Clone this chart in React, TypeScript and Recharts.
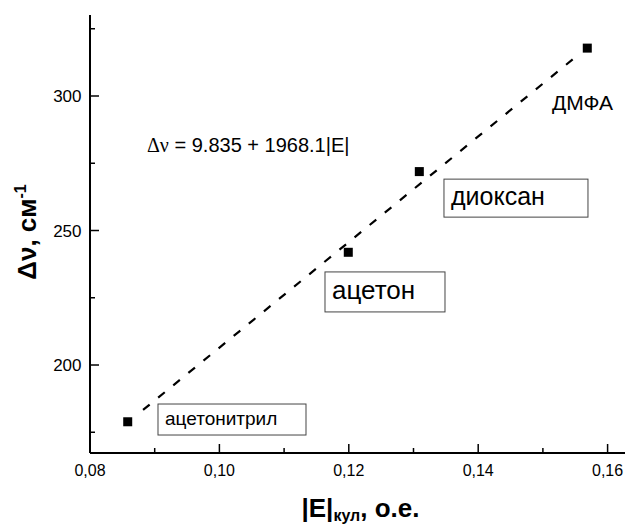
import { ReferenceDot, Scatter, ScatterChart, XAxis, YAxis } from "recharts";

// measured points: |E|кул vs Δν
const solvents = ["ацетонитрил", "ацетон", "диоксан", "ДМФА"];
const eValues = [0.08583, 0.11992, 0.1309, 0.15686];
const dnuValues = [178.9, 241.9, 271.9, 317.8];

// ends of the dashed fit line
const fitE = [0.0882, 0.1551];
const fitNu = [183.3, 314.6];

const xTicks = [0.08, 0.09, 0.1, 0.11, 0.12, 0.13, 0.14, 0.15, 0.16];
const yTicks = [175, 200, 225, 250, 275, 300, 325];
const xMajor = [0.08, 0.1, 0.12, 0.14, 0.16];
const yMajor = [200, 250, 300];

const points = solvents.map((name, i) => ({ name, x: eValues[i], y: dnuValues[i] }));
const fitLine = fitE.map((x, i) => ({ x, y: fitNu[i] }));

const FONT = "'Liberation Sans', Arial, sans-serif";

// labels on the plot, anchored in data coordinates
const boxed = [
  { text: "ацетонитрил", x: 0.09051, y: 185.5, w: 148, h: 31, size: 19 },
  { text: "ацетон", x: 0.11632, y: 234.6, w: 120, h: 40, size: 26 },
  { text: "диоксан", x: 0.13471, y: 269.1, w: 144, h: 38, size: 25 },
];

const isMajor = (v: number, list: number[]) => list.some((m) => Math.abs(m - v) < 1e-6);

function XTick(props: any) {
  const { x, y, payload } = props;
  const major = isMajor(payload.value, xMajor);
  return (
    <g>
      <line x1={x} x2={x} y1={y} y2={y - (major ? 9 : 5)} stroke="#000" strokeWidth={1.5} />
      {major && (
        <text x={x} y={y + 22.5} textAnchor="middle" fontSize={16} fontFamily={FONT} fill="#000">
          {payload.value.toFixed(2).replace(".", ",")}
        </text>
      )}
    </g>
  );
}

function YTick(props: any) {
  const { x, y, payload } = props;
  const major = isMajor(payload.value, yMajor);
  return (
    <g>
      <line x1={x} x2={x + (major ? 9 : 5)} y1={y} y2={y} stroke="#000" strokeWidth={1.5} />
      {major && (
        <text x={x - 8.5} y={y + 6} textAnchor="end" fontSize={17} fontFamily={FONT} fill="#000">
          {payload.value}
        </text>
      )}
    </g>
  );
}

function Square(props: any) {
  const { cx, cy } = props;
  return <rect x={cx - 4.5} y={cy - 4.5} width={9} height={9} fill="#000" />;
}

export default function App() {
  return (
    <div style={{ position: "absolute", left: 0, top: 0, background: "#fff" }}>
      <ScatterChart width={625} height={528} margin={{ top: 15, right: 0, bottom: 0, left: 0 }}>
        <XAxis
          type="number"
          dataKey="x"
          domain={[0.08, 0.16269]}
          allowDataOverflow
          ticks={xTicks}
          interval={0}
          tickSize={0}
          tickMargin={0}
          tickLine={false}
          tick={<XTick />}
          height={75}
          axisLine={{ stroke: "#000", strokeWidth: 2 }}
          label={{
            content: (p: any) => {
              const vb = p.viewBox;
              return (
                <text
                  x={vb.x + vb.width / 2 + 3}
                  y={vb.y + 64}
                  textAnchor="middle"
                  fontFamily={FONT}
                  fontWeight="bold"
                  fontSize={26}
                  fill="#000"
                >
                  |E|
                  <tspan fontSize={16} dy={4}>кул</tspan>
                  <tspan dy={-4}>, о.е.</tspan>
                </text>
              );
            },
          }}
        />
        <YAxis
          type="number"
          dataKey="y"
          domain={[167.29, 330.11]}
          allowDataOverflow
          ticks={yTicks}
          interval={0}
          tickSize={0}
          tickMargin={0}
          tickLine={false}
          tick={<YTick />}
          width={90}
          axisLine={{ stroke: "#000", strokeWidth: 2 }}
          label={{
            content: () => (
              <text
                transform="translate(35.5 232) rotate(-90)"
                textAnchor="middle"
                fontFamily={FONT}
                fontWeight="bold"
                fontSize={26}
                fill="#000"
              >
                Δν,  см
                <tspan fontSize={16} dy={-10}>-1</tspan>
              </text>
            ),
          }}
        />
        <Scatter
          data={fitLine}
          line={{ stroke: "#000", strokeWidth: 2.2, strokeDasharray: "8.5 11" }}
          shape={() => <g />}
          isAnimationActive={false}
        />
        <Scatter data={points} shape={<Square />} isAnimationActive={false} />
        {boxed.map((b) => (
          <ReferenceDot
            key={b.text}
            x={b.x}
            y={b.y}
            shape={(p: any) => (
              <g>
                <rect x={p.cx} y={p.cy} width={b.w} height={b.h} fill="#fff" stroke="#444" strokeWidth={1} />
                <text
                  x={p.cx + 7}
                  y={p.cy + b.h / 2 + b.size * 0.27}
                  fontSize={b.size}
                  fontFamily={FONT}
                  fill="#000"
                >
                  {b.text}
                </text>
              </g>
            )}
          />
        ))}
        <ReferenceDot
          x={0.15141}
          y={294.8}
          shape={(p: any) => (
            <text x={p.cx} y={p.cy} fontSize={21} fontFamily={FONT} fill="#000">
              ДМФА
            </text>
          )}
        />
        <ReferenceDot
          x={0.08881}
          y={279.2}
          shape={(p: any) => (
            <text x={p.cx} y={p.cy} fontSize={20} fontFamily={FONT} fill="#000">
              <tspan fontFamily="'Liberation Serif', serif">Δν</tspan> = 9.835 + 1968.1|E|
            </text>
          )}
        />
      </ScatterChart>
    </div>
  );
}
